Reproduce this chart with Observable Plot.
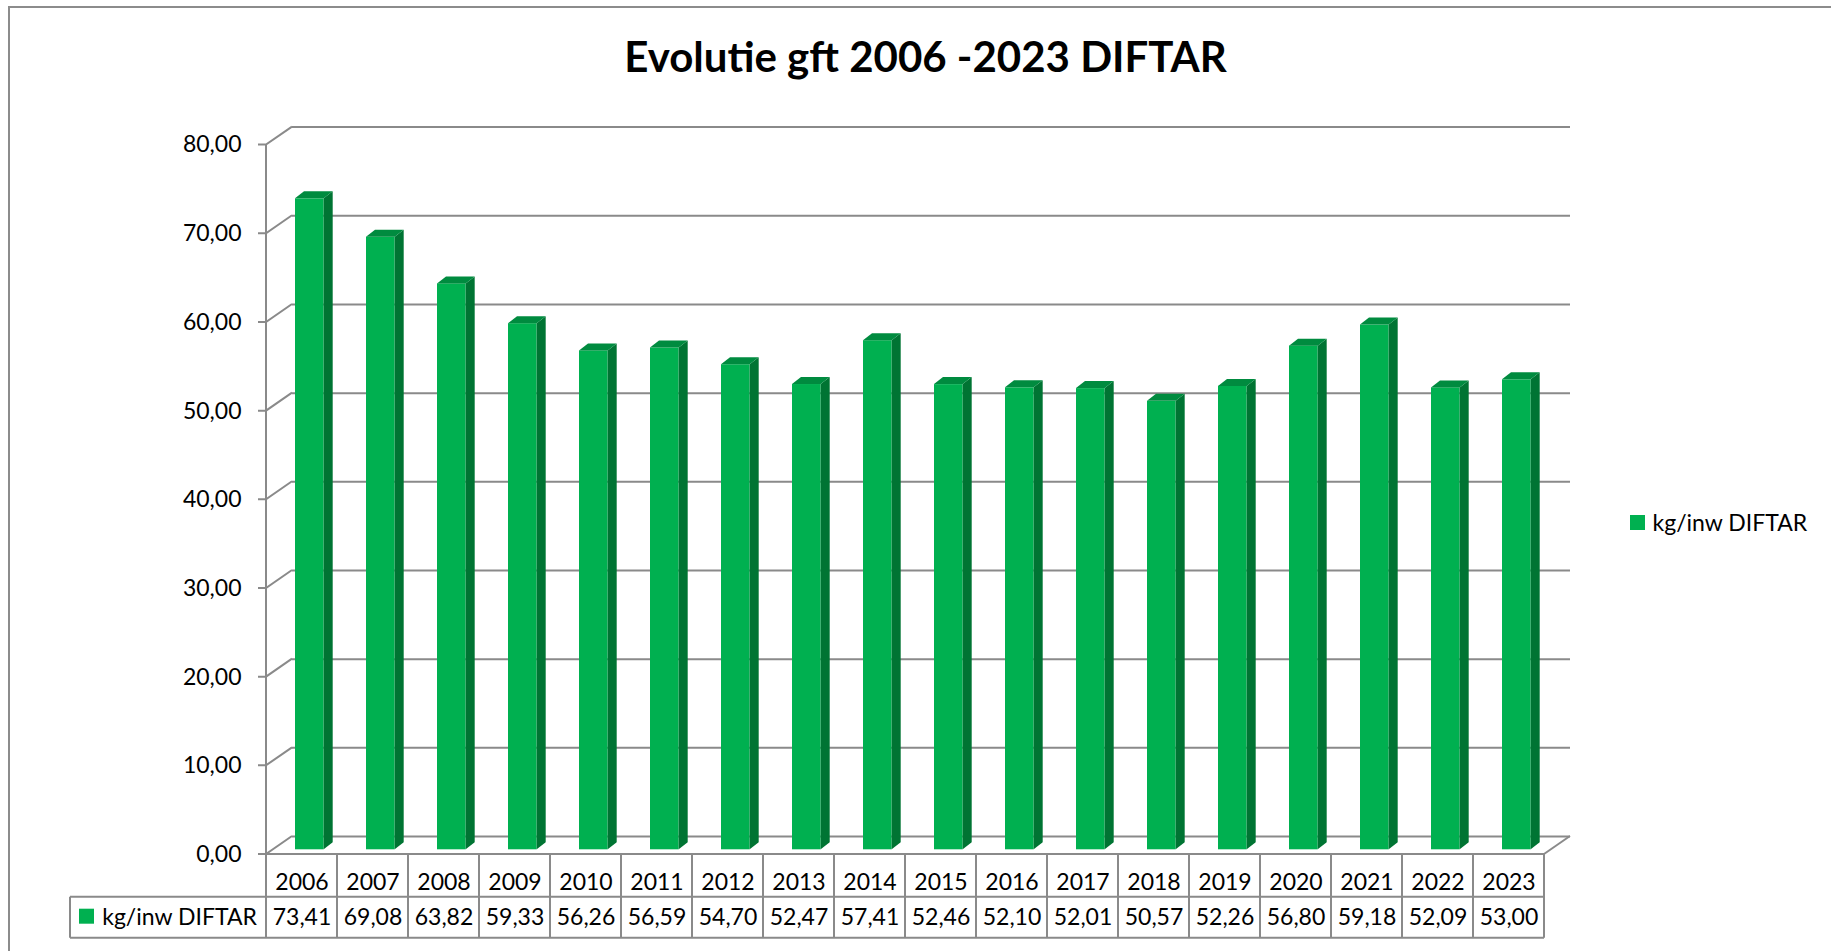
<!DOCTYPE html>
<html><head><meta charset="utf-8">
<script src="https://cdn.jsdelivr.net/npm/d3@7"></script>
<script src="https://cdn.jsdelivr.net/npm/@observablehq/plot@0.6"></script>
<style>
html,body{margin:0;padding:0;background:#fff;}
#chart svg{display:block;}
</style></head><body><div id="chart"></div>
<script>
// ---- data ----
const title = "Evolutie gft 2006 -2023 DIFTAR";
const seriesName = "kg/inw DIFTAR";
const years = ["2006","2007","2008","2009","2010","2011","2012","2013","2014","2015","2016","2017","2018","2019","2020","2021","2022","2023"];
const values = [73.41,69.08,63.82,59.33,56.26,56.59,54.70,52.47,57.41,52.46,52.10,52.01,50.57,52.26,56.80,59.18,52.09,53.00];
const yTicks = [0,10,20,30,40,50,60,70,80];

// ---- styling / layout ----
const fmt = v => v.toFixed(2).replace(".", ",");
const data = years.map((year, i) => ({year, value: values[i]}));
const W = 1831, H = 951;
const mL = 266, mR = 287, mT = 144.6, mB = 97;
const DX = 26, DY = -18;          // depth of the 3D box
const faceL = 29, faceW = 28.7, faceDY = -4.7; // bar front face
const sDX = 9, sDY = -7;          // bar depth
const cFront = "#00B050", cSide = "#007433", cTop = "#008B3F";
const gridC = "#8a8a8a";
const row1 = 896.7 - (H - mB), row2 = 937.7 - (H - mB); // table row bottoms relative to floor
const FONT = "Lato, 'Open Sans', sans-serif";

function bandStart(x, dims) {
  const bw = typeof x.bandwidth === "function" ? x.bandwidth() : (x(years[1]) - x(years[0]));
  const off = x(years[0]) - dims.marginLeft;
  return {bw, start: d => x(d) - off};
}

// background: tick marks, diagonals, floor right edge
function backScene(index, scales, vals, dims) {
  const {x, y} = scales;
  const {bw, start} = bandStart(x, dims);
  const g = d3.create("svg:g").attr("fill", "none").attr("stroke", gridC).attr("stroke-width", 2);
  const x0 = start(years[0]);
  const xr = start(years[years.length - 1]) + bw;
  for (const t of yTicks) {
    g.append("path").attr("d", `M${x0 - 8},${y(t)}H${x0}L${x0 + DX},${y(t) + DY}`);
  }
  g.append("path").attr("d", `M${xr},${y(0)}L${xr + DX},${y(0) + DY}`);
  return g.node();
}

// bar side + top faces
function barDepth(index, scales, vals, dims) {
  const {x, y} = scales;
  const {start} = bandStart(x, dims);
  const g = d3.create("svg:g").attr("stroke", "none");
  for (const d of data) {
    const l = start(d.year) + faceL, r = l + faceW;
    const yt = y(d.value) + faceDY, yb = y(0) + faceDY;
    g.append("path").attr("fill", cSide)
      .attr("d", `M${r},${yt}L${r + sDX},${yt + sDY}V${yb + sDY}L${r},${yb}Z`);
    g.append("path").attr("fill", cTop)
      .attr("d", `M${l},${yt}L${l + sDX},${yt + sDY}H${r + sDX}L${r},${yt}Z`);
  }
  return g.node();
}

// front axis line, data table grid, legend keys, outer frame
function foreScene(index, scales, vals, dims) {
  const {x, y} = scales;
  const {bw, start} = bandStart(x, dims);
  const g = d3.create("svg:g").attr("fill", "none").attr("stroke", gridC).attr("stroke-width", 2);
  const x0 = start(years[0]);
  const xr = start(years[years.length - 1]) + bw;
  const y0 = y(0);
  const tableLeft = 70;
  g.append("path").attr("d", `M${x0},${y(yTicks[yTicks.length - 1])}V${y0 + row2}`);
  g.append("path").attr("d", `M${x0},${y0}H${xr}`);
  g.append("path").attr("d", `M${tableLeft},${y0 + row1}H${xr}`);
  g.append("path").attr("d", `M${tableLeft},${y0 + row2}H${xr}`);
  g.append("path").attr("d", `M${tableLeft},${y0 + row1}V${y0 + row2}`);
  for (const yr of years) {
    const xe = start(yr) + bw;
    g.append("path").attr("d", `M${xe},${y0}V${y0 + row2}`);
  }
  // legend keys
  g.append("rect").attr("x", 79).attr("y", y0 + 54.7).attr("width", 15).attr("height", 15)
    .attr("fill", cFront).attr("stroke", "none");
  g.append("rect").attr("x", 1630).attr("y", 515).attr("width", 15).attr("height", 15)
    .attr("fill", cFront).attr("stroke", "none");
  // outer chart border
  g.append("path").attr("d", `M9,${H + 5}V7H${W + 5}`).attr("stroke", "#8c8c8c");
  return g.node();
}

const chart = Plot.plot({
  width: W, height: H,
  marginLeft: mL, marginRight: mR, marginTop: mT, marginBottom: mB,
  style: {fontFamily: FONT, fontSize: "23px", color: "#000", background: "#fff"},
  x: {type: "band", domain: years, padding: 0, axis: null},
  y: {domain: [0, 80], ticks: yTicks, tickFormat: fmt, tickSize: 0, tickPadding: 25, label: null},
  marks: [
    Plot.ruleY(yTicks, {dx: DX, dy: DY, stroke: gridC, strokeWidth: 2}),
    backScene,
    Plot.barY(data, {x: "year", y: "value", fill: cFront, insetLeft: faceL, insetRight: 71.06 - faceL - faceW, dy: faceDY}),
    barDepth,
    foreScene,
    Plot.text(data, {x: "year", text: "year", frameAnchor: "bottom", dy: 35.3, lineAnchor: "bottom", fontSize: 23, fill: "#000"}),
    Plot.text(data, {x: "year", text: d => fmt(d.value), frameAnchor: "bottom", dy: 70, lineAnchor: "bottom", fontSize: 23, fill: "#000"}),
    Plot.text([seriesName], {frameAnchor: "bottom-left", dx: 101.7 - mL, dy: 70, textAnchor: "start", lineAnchor: "bottom", fontSize: 23, fill: "#000"}),
    Plot.text([seriesName], {frameAnchor: "top-right", dx: 1652 - (W - mR), dy: 530 - mT, textAnchor: "start", lineAnchor: "bottom", fontSize: 23, fill: "#000"}),
    Plot.text([title], {frameAnchor: "top", dx: 925 - (mL + (W - mR)) / 2, dy: 71 - mT, lineAnchor: "bottom", fontSize: 42, fontWeight: "bold", fill: "#000"})
  ]
});
document.getElementById("chart").appendChild(chart);
</script>
</body></html>
